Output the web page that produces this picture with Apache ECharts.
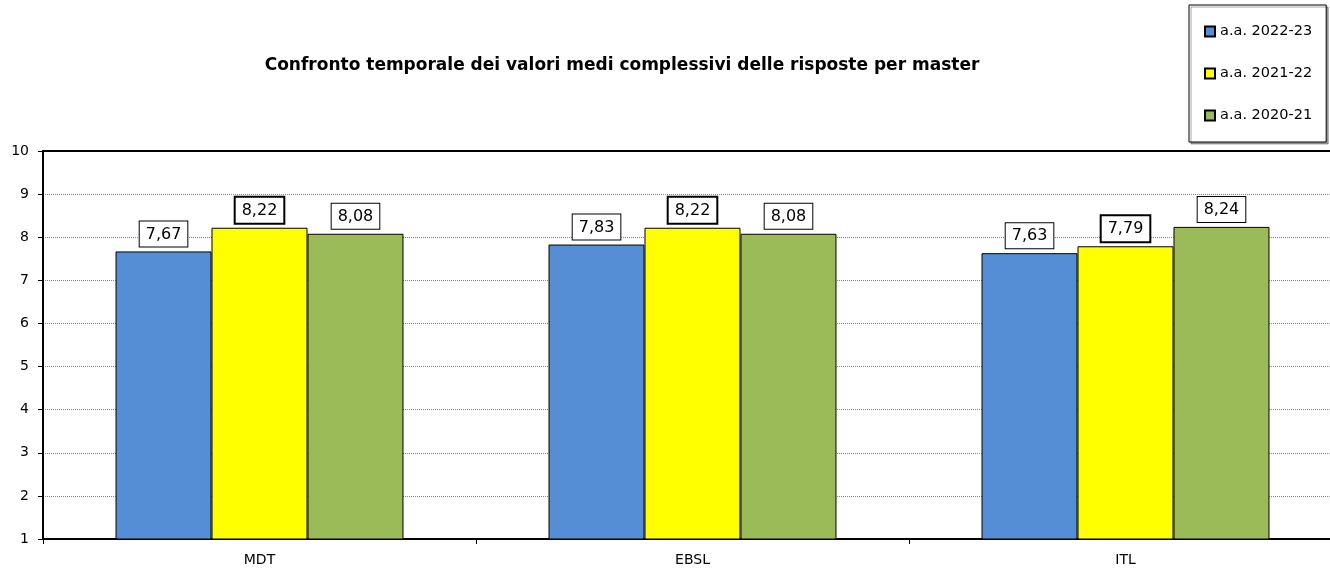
<!DOCTYPE html>
<html>
<head>
<meta charset="utf-8">
<script src="https://cdn.jsdelivr.net/npm/echarts@6/dist/echarts.min.js"></script>
<style>
  html, body { margin: 0; padding: 0; background: #fff; overflow: hidden; }
  #chart { width: 1342px; height: 568px; }
</style>
</head>
<body>
<div id="chart"></div>
<script>
const categories = ['MDT', 'EBSL', 'ITL']
const seriesNames = ['a.a. 2022-23', 'a.a. 2021-22', 'a.a. 2020-21']
const values2223 = [7.67, 7.83, 7.63]
const values2122 = [8.22, 8.22, 7.79]
const values2021 = [8.08, 8.08, 8.24]
const colors = ['#558ed5', '#ffff00', '#9bbb59']

const fontFamily = 'DejaVu Sans'

const chart = echarts.init(document.getElementById('chart'))

function makeSeries(name, data, color, labelBorder) {
  return {
    name: name,
    type: 'bar',
    data: data,
    barGap: '0%',
    barCategoryGap: '33.5%',
    itemStyle: { color: color, borderColor: '#000', borderWidth: 1 },
    label: {
      show: true,
      position: 'top',
      distance: 5,
      formatter: p => p.value.toFixed(2).replace('.', ','),
      color: '#000',
      fontFamily: fontFamily,
      fontSize: 16,
      backgroundColor: '#fff',
      borderColor: '#000',
      borderWidth: labelBorder,
      padding: [5, 6, 4, 6]
    },
    animation: false
  }
}

chart.setOption({
  animation: false,
  title: {
    text: 'Confronto temporale dei valori medi complessivi delle risposte per master',
    left: 617,
    top: 52,
    textAlign: 'center',
    textStyle: { fontFamily: fontFamily, fontSize: 17, fontWeight: 'bold', color: '#000' }
  },
  color: colors,
  legend: {
    orient: 'vertical',
    left: 1189,
    top: 5,
    itemWidth: 10,
    itemHeight: 10,
    itemGap: 27,
    padding: [19, 14, 19, 15],
    borderColor: '#000',
    borderWidth: 1,
    backgroundColor: '#fff',
    shadowColor: 'rgba(0,0,0,0.35)',
    shadowOffsetX: 2,
    shadowOffsetY: 2,
    icon: 'rect',
    textStyle: { fontFamily: fontFamily, fontSize: 14.5, color: '#000' },
    data: seriesNames
  },
  grid: { left: 43, right: 0, top: 151, bottom: 29, containLabel: false },
  xAxis: [{
    type: 'category',
    data: categories,
    axisLine: { lineStyle: { color: '#000', width: 2 } },
    axisTick: { show: true, length: 5, lineStyle: { color: '#000' } },
    axisLabel: { fontFamily: fontFamily, fontSize: 14, color: '#000', margin: 14 }
  }, {
    type: 'category',
    data: categories,
    position: 'top',
    axisLine: { lineStyle: { color: '#000', width: 2 } },
    axisTick: { show: false },
    axisLabel: { show: false }
  }],
  yAxis: {
    type: 'value',
    min: 1,
    max: 10,
    interval: 1,
    axisLine: { show: true, lineStyle: { color: '#000', width: 2 } },
    axisTick: { show: true, length: 5, lineStyle: { color: '#000' } },
    axisLabel: { fontFamily: fontFamily, fontSize: 14, color: '#000', margin: 14 },
    splitLine: { lineStyle: { color: '#888', type: 'dotted', width: 1 } }
  },
  series: [
    makeSeries(seriesNames[0], values2223, colors[0], 1),
    makeSeries(seriesNames[1], values2122, colors[1], 2),
    makeSeries(seriesNames[2], values2021, colors[2], 1)
  ]
})
</script>
</body>
</html>
